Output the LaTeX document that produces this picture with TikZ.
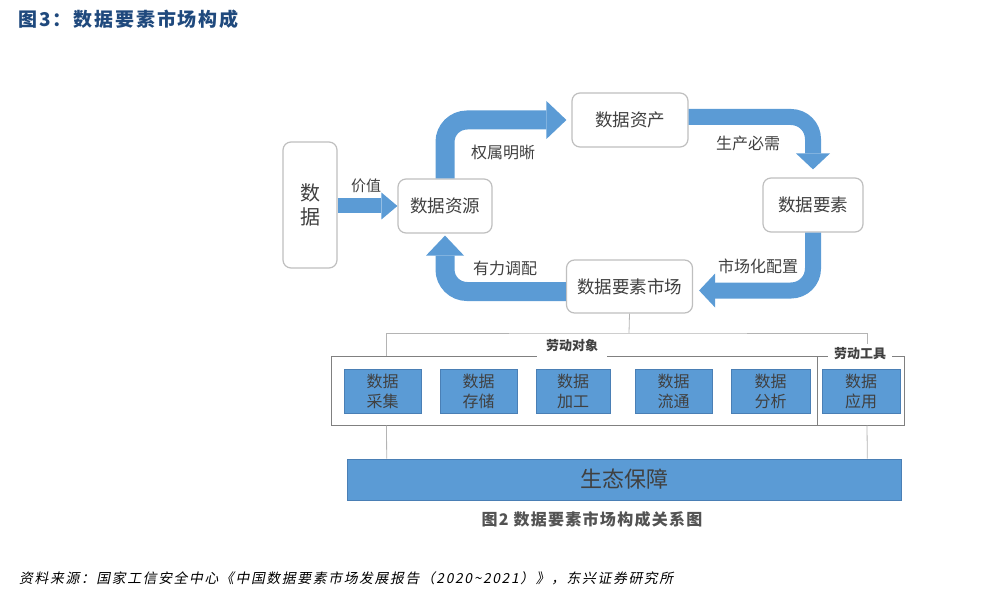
\documentclass[tikz,border=0pt]{standalone}
\usepackage{fontspec}
\setmainfont{Noto Sans CJK SC}
\newfontfamily\titlefont[LetterSpace=10]{Noto Sans CJK SC}
\newfontfamily\notefont[FakeSlant=0.2,LetterSpace=12]{Noto Sans CJK SC}
\newfontfamily\capfont[LetterSpace=8]{Noto Sans CJK SC}
\usetikzlibrary{arrows.meta}
\definecolor{flowblue}{HTML}{5B9BD5}
\definecolor{edgeblue}{HTML}{4A7FB5}
\definecolor{boxgray}{HTML}{BFBFBF}
\definecolor{framegray}{HTML}{808080}
\definecolor{linegray}{HTML}{B4B4B4}
\definecolor{textgray}{HTML}{404040}
\definecolor{titleblue}{HTML}{1F497D}

\begin{document}
\begin{tikzpicture}[x=1pt,y=-1pt,
  round node/.style={draw=boxgray,line width=1.2pt,rounded corners=8pt,fill=white,
    text=textgray,font=\fontsize{17.5}{20}\selectfont,minimum height=54pt},
  flow/.style={draw=flowblue,rounded corners=22pt},
  big flow/.style={flow,line width=19pt,-{Triangle[width=38pt,length=20pt,line width=0pt]}},
  mid flow/.style={flow,line width=16pt,-{Triangle[width=34pt,length=16pt,line width=0pt]}},
  small flow/.style={flow,line width=15pt,-{Triangle[width=27pt,length=16pt,line width=0pt]}},
  flow label/.style={text=textgray,font=\fontsize{16}{18}\selectfont},
  task/.style={fill=flowblue,draw=edgeblue,line width=0.6pt,minimum width=77pt,minimum height=44pt,
    align=center,text=textgray,font=\fontsize{16}{20}\selectfont},
  frame/.style={draw=framegray,line width=1pt},
  group/.style={fill=white,text=textgray,font=\bfseries\fontsize{13}{15}\selectfont},
  tree/.style={draw=linegray,line width=0.8pt}]

  \useasboundingbox (0,0) rectangle (996,604);

  % title and source
  \node[anchor=west,inner sep=0pt,text=titleblue,font=\titlefont\bfseries\fontsize{19}{22}\selectfont] (title) at (18,19) {图3：数据要素市场构成};
  \node[anchor=west,inner sep=0pt,font=\notefont\fontsize{13.8}{16}\selectfont] (source) at (19,578) {资料来源：国家工信安全中心《中国数据要素市场发展报告（2020\textasciitilde2021）》，东兴证券研究所};

  % cycle
  \node[round node,minimum width=54pt,minimum height=126pt,align=center,font=\fontsize{20}{24}\selectfont] (data) at (310,205) {数\\据};
  \node[round node,minimum width=94pt] (res) at (445,206) {数据资源};
  \node[round node,minimum width=116pt] (asset) at (630,120) {数据资产};
  \node[round node,minimum width=100pt] (elem) at (813,205) {数据要素};
  \node[round node,minimum width=126pt,minimum height=53pt] (market) at (629.5,286.5) {数据要素市场};

  \draw[small flow] (data.east |- res.west) -- (res.west);
  \draw[big flow,shorten >=5pt] (res.north) |- (asset.west);
  \draw[mid flow,shorten >=8pt] ([yshift=3pt]asset.east) -| (elem.north);
  \draw[mid flow,shorten >=6pt] (elem.south) |- ([yshift=-4pt]market.east);
  \draw[big flow,shorten >=2pt] ([yshift=-5pt]market.west) -| (res.south);

  \node[flow label,font=\fontsize{15}{17}\selectfont] (value) at (366,186) {价值};
  \node[flow label] (rights) at (503,152) {权属明晰};
  \node[flow label] (need) at (748,143) {生产必需};
  \node[flow label] (alloc) at (758,266) {市场化配置};
  \node[flow label] (adjust) at (505,268) {有力调配};

  % market structure
  \node[frame,minimum width=486pt,minimum height=69pt] (objects) at (574,390.5) {};
  \node[frame,minimum width=87pt,minimum height=69pt] (tools) at (860.5,390.5) {};
  \node[group,inner xsep=9pt,minimum height=23pt,anchor=south] (objlbl) at (572,357.5) {劳动对象};
  \node[group,inner xsep=6pt] (toollbl) at (860,354) {劳动工具};

  \coordinate (hub) at (629,333);
  \draw[tree] (market.south) -- (hub);
  \draw[tree] ([xshift=56pt]objects.north west) |- (hub) -| ([xshift=7pt]toollbl.north);

  \node[task] (collect) at (382.5,391) {数据\\采集};
  \node[task] (store) at (478.5,391) {数据\\存储};
  \node[task,minimum width=74pt] (process) at (573,391) {数据\\加工};
  \node[task] (circulate) at (673.5,391) {数据\\流通};
  \node[task,minimum width=79pt] (analyse) at (770.5,391) {数据\\分析};
  \node[task,minimum width=78pt] (apply) at (861,391) {数据\\应用};

  \node[fill=flowblue,draw=edgeblue,line width=0.6pt,minimum width=554pt,minimum height=41pt,
    text=textgray,font=\fontsize{22}{24}\selectfont] (base) at (624,479.5) {生态保障};
  \draw[tree] ([xshift=56pt]objects.south west) -- ([xshift=40pt]base.north west);
  \draw[tree] ([xshift=6.5pt]tools.south) -- ([xshift=-34pt]base.north east);

  \node[text=textgray!90,font=\capfont\bfseries\fontsize{16}{18}\selectfont] (caption) at (592,519) {图2 数据要素市场构成关系图};
\end{tikzpicture}
\end{document}
